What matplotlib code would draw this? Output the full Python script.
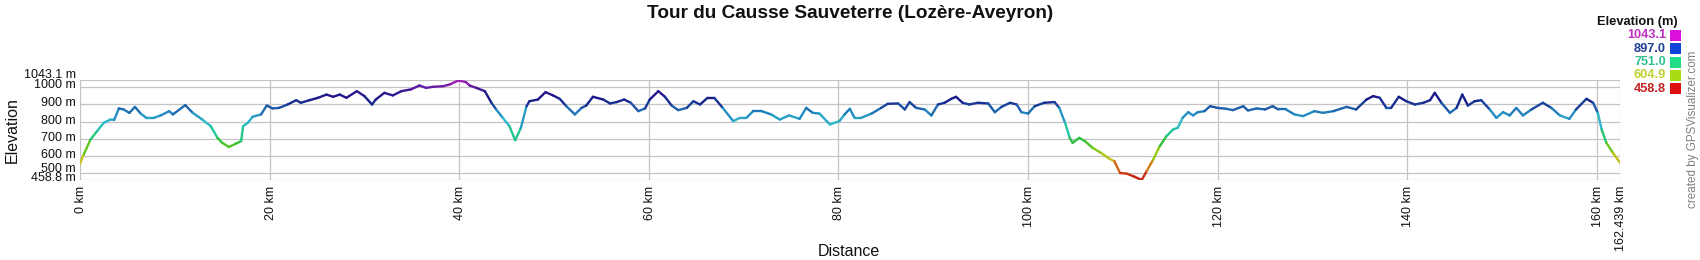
import numpy as np
import matplotlib
matplotlib.use('Agg')
import matplotlib.pyplot as plt
from matplotlib.collections import LineCollection
from matplotlib.colors import LinearSegmentedColormap, Normalize
from matplotlib.patches import Rectangle

# ---------------- data ----------------
dist_km = [0, 0.4, 1.1, 1.8, 2.5, 3.2, 3.6, 4.1, 4.6, 5.2, 5.8, 6.4, 7.0, 7.8, 8.5, 9.4, 9.8,
           11.1, 11.9, 12.9, 13.8, 14.5, 15.0, 15.7, 16.4, 17.0, 17.2, 17.7, 18.2, 19.1, 19.7,
           20.3, 21.0, 21.9, 22.8, 23.3, 24.2, 25.1, 26.0, 26.7, 27.4, 28.1, 29.2, 30.0, 30.8,
           31.2, 32.1, 33.0, 33.9, 34.9, 35.8, 36.5, 37.2, 38.3, 39.0, 39.9, 40.7, 41.1, 41.8,
           42.7, 43.4, 43.9, 44.6, 45.3, 45.9, 46.5, 47.1, 47.4, 48.3, 49.1, 49.9, 50.6, 51.3,
           52.2, 52.9, 53.4, 54.1, 55.2, 55.9, 56.6, 57.4, 58.1, 58.9, 59.6, 60.1, 61.0, 61.7,
           62.4, 63.1, 64.0, 64.7, 65.4, 66.2, 66.9, 67.8, 68.9, 69.6, 70.3, 71.0, 71.9, 72.9,
           73.8, 74.8, 75.9, 76.6, 77.3, 78.0, 79.1, 80.1, 80.65, 81.2, 81.7, 82.4, 83.5, 84.5,
           85.2, 86.3, 87.0, 87.5, 88.2, 89.1, 89.8, 90.5, 91.2, 91.9, 92.4, 93.1, 93.8, 94.7,
           95.8, 96.5, 97.2, 98.1, 98.8, 99.3, 100.0, 100.7, 101.7, 102.8, 103.3, 103.9, 104.4,
           104.7, 105.4, 106.0, 106.8, 107.7, 108.6, 109.1, 109.7, 110.4, 111.1, 112.0, 112.5,
           113.2, 113.9, 114.6, 115.3, 115.8, 116.3, 116.9, 117.4, 117.9, 118.6, 119.2, 120.0,
           120.9, 121.6, 122.7, 123.2, 124.1, 125.0, 125.8, 126.4, 127.2, 128.1, 129.0, 130.2,
           131.1, 132.2, 133.6, 134.6, 135.7, 136.4, 137.1, 137.8, 138.3, 139.1, 139.9, 140.8,
           141.7, 142.4, 142.9, 143.6, 144.5, 145.2, 145.8, 146.4, 147.1, 147.8, 148.7, 149.4,
           150.1, 150.8, 151.5, 152.2, 153.1, 154.3, 155.2, 156.1, 157.1, 157.8, 158.9, 159.6,
           160.1, 160.5, 161.0, 161.7, 162.439]
elev_m = [555, 608, 695, 744, 793, 812, 810, 877, 871, 851, 886, 847, 822, 822, 836, 861, 842,
          896, 851, 812, 773, 705, 676, 652, 670, 686, 773, 793, 828, 842, 894,
          877, 880, 900, 925, 910, 925, 939, 958, 945, 958, 939, 978, 949, 900,
          929, 968, 953, 978, 988, 1011, 997, 1003, 1007, 1017, 1040, 1031, 1011, 997,
          978, 910, 871, 822, 773, 691, 763, 890, 919, 929, 972, 953, 933, 890,
          842, 880, 894, 945, 929, 906, 914, 929, 910, 861, 877, 929, 978, 945,
          894, 867, 880, 919, 900, 939, 939, 880, 803, 822, 822, 861, 861, 842,
          812, 836, 816, 880, 851, 847, 783, 803, 842, 875, 822, 822, 847, 880,
          904, 906, 871, 914, 880, 871, 836, 900, 910, 933, 945, 910, 900, 910,
          906, 855, 886, 910, 900, 855, 847, 890, 910, 914, 880, 793, 705,
          676, 705, 686, 647, 617, 582, 569, 500, 496, 481, 459, 510,
          578, 657, 715, 754, 764, 822, 855, 836, 855, 861, 890, 880,
          875, 867, 890, 865, 877, 871, 890, 871, 871, 842, 832, 861,
          851, 861, 886, 871, 929, 949, 939, 880, 880, 945, 919, 900,
          910, 925, 968, 910, 851, 880, 958, 894, 919, 925, 871, 822,
          855, 836, 880, 836, 871, 910, 880, 836, 816, 871, 933, 910,
          851, 754, 676, 617, 560]

ymin, ymax = 458.8, 1043.1
xmax = 162.439
ytick_vals = [458.8, 500, 600, 700, 800, 900, 1000, 1043.1]
ytick_labels = ['458.8 m', '500 m', '600 m', '700 m', '800 m', '900 m', '1000 m', '1043.1 m']
xtick_vals = [0, 20, 40, 60, 80, 100, 120, 140, 160, 162.439]
xtick_labels = ['0 km', '20 km', '40 km', '60 km', '80 km', '100 km', '120 km', '140 km',
                '160 km', '162.439 km']
legend_labels = ['1043.1', '897.0', '751.0', '604.9', '458.8']

title = 'Tour du Causse Sauveterre (Lozère-Aveyron)'

# ---------------- style ----------------
plt.rcParams['font.family'] = ['Liberation Sans', 'DejaVu Sans']
W, H = 1700, 260
fig = plt.figure(figsize=(W / 100, H / 100), dpi=100)
fig.patch.set_facecolor('white')

ax = fig.add_axes([80 / W, (H - 180) / H, 1540 / W, 100 / H])
ax.set_xlim(0, xmax)
ax.set_ylim(ymin, ymax)
for s in ax.spines.values():
    s.set_visible(False)
ax.set_xticks([])
ax.set_yticks([])

grid_c = '#c4c4c4'
for v in ytick_vals:
    ax.axhline(v, color=grid_c, lw=0.9, zorder=1)
for v in xtick_vals:
    ax.axvline(v, color=grid_c, lw=0.9, zorder=1)

stops = [(458.8, '#c81414'), (525, '#d05010'), (572, '#d0c020'), (625, '#8ccc10'),
         (680, '#30c030'), (740, '#20c8a0'), (800, '#30b8cc'), (850, '#2288c0'),
         (890, '#1a4aa0'), (930, '#141a88'), (980, '#331890'), (1043.1, '#b020c0')]
cmap = LinearSegmentedColormap.from_list(
    'elev', [((v - ymin) / (ymax - ymin), c) for v, c in stops])
norm = Normalize(ymin, ymax)

x = np.asarray(dist_km)
y = np.asarray(elev_m, dtype=float)
pts = np.column_stack([x, y]).reshape(-1, 1, 2)
segs = np.concatenate([pts[:-1], pts[1:]], axis=1)
lc = LineCollection(segs, cmap=cmap, norm=norm, linewidths=1.7,
                    capstyle='round', joinstyle='round', zorder=3)
lc.set_array((y[:-1] + y[1:]) / 2)
ax.add_collection(lc)

# y tick labels
dys = {458.8: 2, 500: 4, 1000: 2, 1043.1: 5}
for v, lab in zip(ytick_vals, ytick_labels):
    ax.annotate(lab, xy=(0, v), xycoords=('axes fraction', 'data'),
                xytext=(-4, dys.get(v, 1)), textcoords='offset pixels',
                ha='right', va='center', fontsize=9, color='#111111')

# x tick labels
for v, lab in zip(xtick_vals, xtick_labels):
    ax.annotate(lab, xy=(v, 0), xycoords=('data', 'axes fraction'),
                xytext=(1, -6), textcoords='offset pixels', rotation=90,
                ha='center', va='top', fontsize=9, color='#111111')

fig.text(12 / W, 1 - 130 / H, 'Elevation', rotation=90, ha='center', va='center',
         fontsize=11.5, color='#111111')
fig.text(849 / W, 1 - 252 / H, 'Distance', ha='center', va='center',
         fontsize=11.5, color='#111111')
fig.text(850 / W, 1 - 14 / H, title, ha='center', va='center', fontsize=13.7,
         fontweight='bold', color='#111111')

# legend
fig.text(1678 / W, 1 - 22 / H, 'Elevation (m)', ha='right', va='center', fontsize=9.3,
         fontweight='bold', color='#111111')
text_cols = ['#c030c0', '#1f3f95', '#30c090', '#c0d030', '#c02020']
sq_cols = ['#dd11dd', '#1144dd', '#22dd88', '#aadd11', '#dd1111']
ys_leg = [35.5, 48.8, 62, 75.3, 88.5]
for lab, tc, sc, yy in zip(legend_labels, text_cols, sq_cols, ys_leg):
    fig.text(1666 / W, 1 - yy / H, lab, ha='right', va='center', fontsize=9.2,
             fontweight='bold', color=tc)
    fig.patches.append(Rectangle((1670 / W, 1 - (yy + 5.5) / H), 11 / W, 11 / H,
                                 transform=fig.transFigure, facecolor=sc,
                                 edgecolor='none', figure=fig))

fig.text(1693 / W, 1 - 129 / H, 'created by GPSVisualizer.com', rotation=90,
         ha='center', va='center', fontsize=8.4, color='#808080')

fig.savefig('out.png', dpi=100, facecolor='white')
